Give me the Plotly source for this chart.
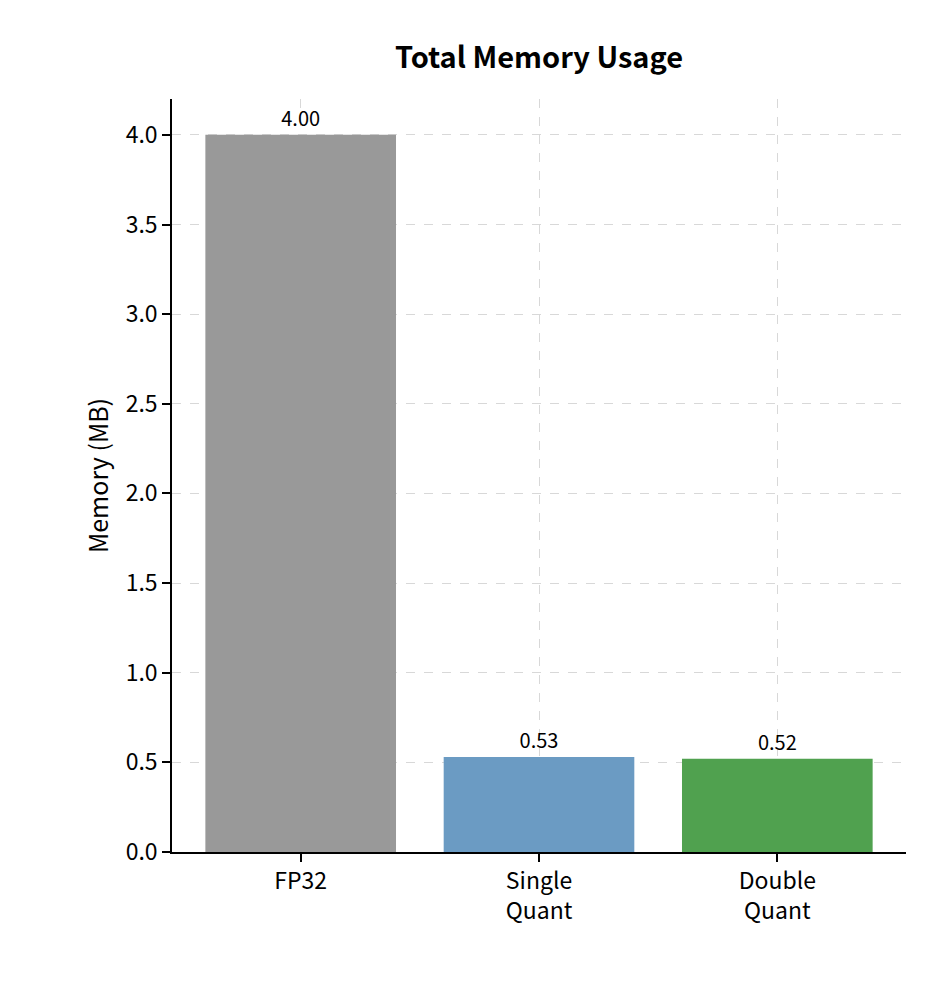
import plotly.graph_objects as go

categories = ["FP32", "Single<br>Quant", "Double<br>Quant"]
values = [4.00, 0.53, 0.52]
labels = ["4.00", "0.53", "0.52"]
colors = ["#999999", "#6b9bc3", "#50a14f"]

font = "Noto Sans CJK SC"
fig = go.Figure(go.Bar(
    x=list(range(len(categories))), y=values, width=0.8,
    marker=dict(color=colors, line=dict(width=0)),
    text=labels, textposition="outside", cliponaxis=False,
    textfont=dict(family=font, size=20, color="black"),
))
fig.update_layout(
    width=934, height=994, plot_bgcolor="white", paper_bgcolor="white",
    margin=dict(l=164, r=36, t=91, b=150),
    showlegend=False,
    title=dict(text="<b>Total Memory Usage</b>", x=0.5, xanchor="center",
               xref="paper", y=0.95, yanchor="middle",
               font=dict(family=font, size=29, color="black")),
    font=dict(family=font, size=23, color="black"),
)
fig.update_xaxes(range=[-0.54, 2.54], tickvals=list(range(len(categories))),
                 ticktext=categories, showline=True, linecolor="black", linewidth=1.5,
                 ticks="outside", ticklen=8, tickwidth=1.5, tickcolor="black",
                 showgrid=True, gridcolor="#d8d8d8", griddash="dash", gridwidth=1.3,
                 zeroline=False)
fig.update_yaxes(range=[0, 4.2], dtick=0.5, tickformat=".1f",
                 title=dict(text="Memory (MB)", font=dict(size=25), standoff=10),
                 showline=True, linecolor="black", linewidth=1.5,
                 ticks="outside", ticklen=8, tickwidth=1.5, tickcolor="black",
                 showgrid=True, gridcolor="#d8d8d8", griddash="dash", gridwidth=1.3,
                 zeroline=False)
fig.write_html("out.html")
